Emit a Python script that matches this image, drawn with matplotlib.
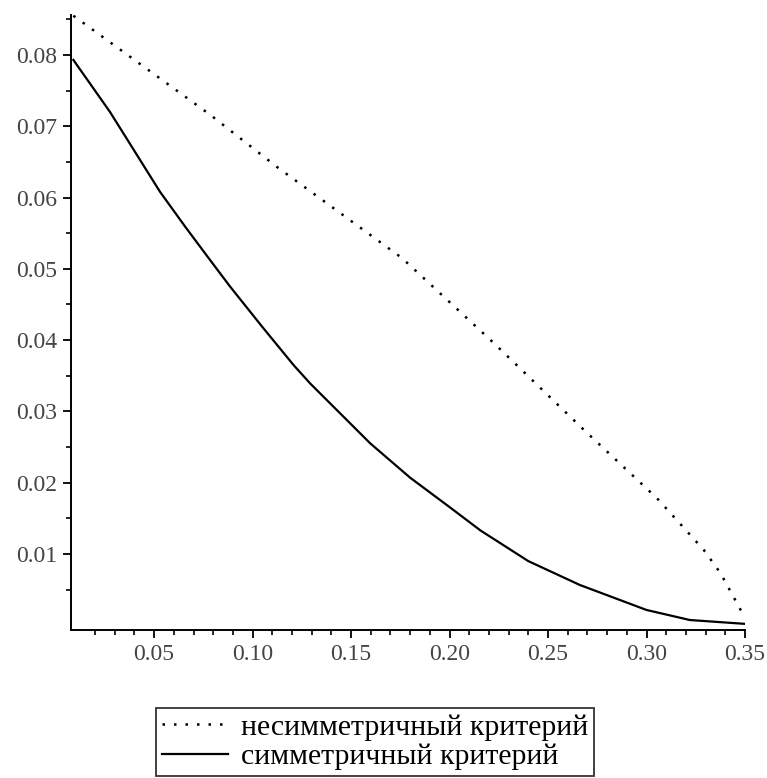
import matplotlib
matplotlib.use("Agg")
import matplotlib.pyplot as plt
from matplotlib.ticker import FixedLocator

# curves
sym_x = [0.009, 0.0276, 0.053, 0.0658, 0.0785, 0.0886, 0.1045, 0.1208,
         0.1293, 0.1598, 0.180, 0.1902, 0.2004, 0.2157, 0.240, 0.2662,
         0.300, 0.322, 0.350]
sym_y = [0.0793, 0.0720, 0.0608, 0.0559, 0.0512, 0.0475, 0.0420, 0.0365,
         0.0339, 0.0255, 0.0207, 0.0186, 0.0165, 0.0133, 0.0090, 0.00565,
         0.00215, 0.00074, 0.0002]

asym_x = [0.009, 0.0785, 0.1123, 0.1759, 0.2224, 0.269, 0.3054, 0.3291,
          0.3376, 0.3478, 0.350]
asym_y = [0.0855, 0.0716, 0.0643, 0.0515, 0.0396, 0.0272, 0.0178, 0.01056,
          0.0073, 0.00215, 0.0011]

labels = ["несимметричный критерий", "симметричный критерий"]
x_ticks = [0.05, 0.10, 0.15, 0.20, 0.25, 0.30, 0.35]
y_ticks = [0.01, 0.02, 0.03, 0.04, 0.05, 0.06, 0.07, 0.08]
x_minor = [0.01 * i for i in range(2, 35) if i % 5]
y_minor = [0.005 + 0.01 * i for i in range(9)]

plt.rcParams['font.family'] = ['Liberation Serif', 'DejaVu Serif']

fig = plt.figure(figsize=(7.67, 7.78), dpi=100)
ax = fig.add_axes([71 / 767, 1 - 630 / 778, (745 - 71) / 767, (630 - 15) / 778])

l1, = ax.plot(asym_x, asym_y, color='black', lw=1.8, linestyle=(0, (1, 3.6)))
l2, = ax.plot(sym_x, sym_y, color='black', lw=1.6)

ax.set_xlim(0.0078, 0.35)
ax.set_ylim(-0.00066, 0.0856)

ax.xaxis.set_major_locator(FixedLocator(x_ticks))
ax.xaxis.set_minor_locator(FixedLocator(x_minor))
ax.yaxis.set_major_locator(FixedLocator(y_ticks))
ax.yaxis.set_minor_locator(FixedLocator(y_minor))
ax.set_xticklabels(["%.2f" % v for v in x_ticks])
ax.set_yticklabels(["%.2f" % v for v in y_ticks])

for s in ['top', 'right']:
    ax.spines[s].set_visible(False)
for s in ['left', 'bottom']:
    ax.spines[s].set_linewidth(1.4)

ax.tick_params(which='major', direction='out', length=6, width=1.3,
               labelsize=17, labelcolor='#444444', pad=4)
ax.tick_params(which='minor', direction='out', length=3.5, width=1.2)

leg = fig.legend([l1, l2], labels, loc='upper left',
                 bbox_to_anchor=(156 / 767, 1 - 708 / 778),
                 fontsize=21.5, frameon=True, fancybox=False,
                 handlelength=2.2, handletextpad=0.45, borderpad=0.2,
                 labelspacing=0.08, borderaxespad=0)
leg.get_frame().set_edgecolor('black')
leg.get_frame().set_linewidth(1.3)

fig.savefig("out.png", dpi=100)
